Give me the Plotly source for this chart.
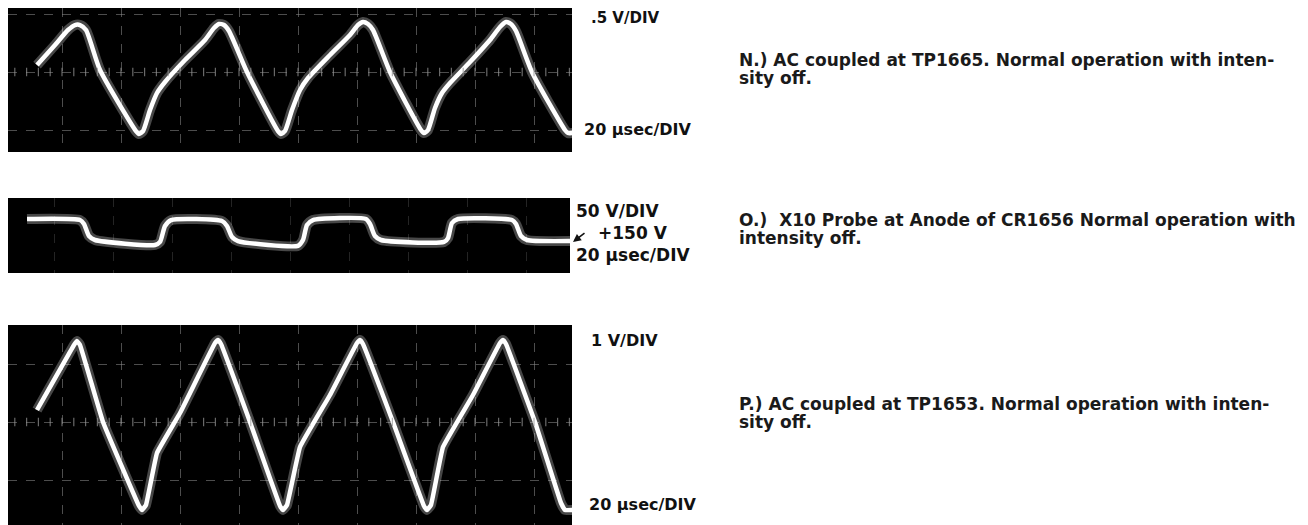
import plotly.graph_objects as go

# page body adds an 8 px margin, so the figure is drawn 8 px in from the corner
OFF = 8
W, H = 1300, 517

# ---- Data (time in microseconds) ----
# N.) TP1665, 0.5 V/div, 20 usec/div
n_time = [-8.47, -2.37, 2.03, 4.41, 6.10, 8.14, 12.88, 25.08, 26.10, 27.46,
          29.83, 32.20, 34.92, 41.69, 48.47, 51.53, 53.22, 54.92, 56.61, 62.71,
          73.22, 74.24, 75.59, 77.97, 80.68, 83.39, 90.85, 97.63, 100.34, 102.03,
          103.73, 105.42, 111.19, 121.69, 122.71, 124.07, 126.44, 128.81, 131.53, 138.31,
          145.08, 148.47, 150.51, 152.20, 153.90, 159.3, 170.51, 171.53, 173.22]
n_volts = [0.06, 0.233, 0.362, 0.405, 0.405, 0.362, 0.017, -0.509, -0.534, -0.509,
           -0.328, -0.181, -0.086, 0.103, 0.276, 0.379, 0.414, 0.405, 0.353, 0.0,
           -0.509, -0.534, -0.509, -0.328, -0.155, -0.052, 0.147, 0.319, 0.405, 0.431,
           0.414, 0.362, 0.0, -0.5, -0.526, -0.5, -0.31, -0.181, -0.095, 0.086,
           0.276, 0.388, 0.431, 0.414, 0.353, 0.0, -0.5, -0.526, -0.526]

# O.) Anode of CR1656, 50 V/div, 20 usec/div
o_time = [-11.86, 6.10, 7.46, 9.15, 11.19, 31.53, 33.22, 34.92, 36.95, 54.24,
          55.93, 57.63, 59.66, 80.0, 81.69, 83.05, 85.08, 103.05, 104.41, 106.10,
          108.14, 129.49, 130.85, 132.20, 134.24, 152.54, 153.90, 155.59, 157.63, 172.2]
o_volts = [168.1, 167.2, 163.8, 153.4, 150.0, 145.7, 148.3, 162.1, 167.2, 166.4,
           162.1, 152.6, 149.1, 145.0, 150.0, 162.9, 167.2, 168.1, 163.8, 153.4,
           150.0, 148.3, 151.7, 164.7, 168.1, 167.2, 163.8, 153.4, 150.0, 149.1]

# P.) TP1653, 1 V/div, 20 usec/div
p_time = [-8.47, 4.07, 5.08, 6.10, 13.90, 26.10, 27.12, 28.47, 32.20, 40.0,
          51.86, 52.88, 53.90, 63.73, 73.90, 74.92, 76.27, 80.68, 90.85, 100.0,
          101.02, 102.03, 112.2, 122.71, 123.73, 125.08, 129.15, 139.32, 148.47, 149.49,
          150.51, 160.34, 169.15, 170.51, 173.22]
p_volts = [0.207, 1.328, 1.397, 1.328, 0.0, -1.448, -1.517, -1.431, -0.534, 0.155,
           1.362, 1.414, 1.345, 0.0, -1.448, -1.517, -1.431, -0.431, 0.466, 1.362,
           1.414, 1.345, 0.0, -1.448, -1.517, -1.431, -0.431, 0.466, 1.362, 1.414,
           1.345, 0.0, -1.397, -1.517, -1.517]

scale_labels = [".5 V/DIV", "20 \u00b5sec/DIV", "50 V/DIV", "+150 V", "20 \u00b5sec/DIV",
                "1 V/DIV", "20 \u00b5sec/DIV"]
captions = [
    ["N.) AC coupled at TP1665. Normal operation with inten-", "sity off."],
    ["O.)  X10 Probe at Anode of CR1656 Normal operation with", "intensity off."],
    ["P.) AC coupled at TP1653. Normal operation with inten-", "sity off."],
]


def px_x(p):
    return min(max((p - OFF) / W, 0.0), 1.0)


def px_y(p):
    return min(max(1 - (p - OFF) / H, 0.0), 1.0)


fig = go.Figure()

panels = [(n_time, n_volts, "x", "y", 0.6), (o_time, o_volts, "x2", "y2", 0.6),
          (p_time, p_volts, "x3", "y3", 0.25)]
for t, v, xa, ya, sm in panels:
    fig.add_trace(go.Scatter(x=t, y=v, xaxis=xa, yaxis=ya, mode="lines",
                             line=dict(color="rgba(255,255,255,0.28)", width=10,
                                       shape="spline", smoothing=sm),
                             hoverinfo="skip", showlegend=False))
    fig.add_trace(go.Scatter(x=t, y=v, xaxis=xa, yaxis=ya, mode="lines",
                             line=dict(color="#ffffff", width=4.5,
                                       shape="spline", smoothing=sm),
                             showlegend=False))

# graticule tick marks on the centre lines
tick_t = [i * 4 for i in range(-4, 44)]
for xa, ya in (("x", "y"), ("x3", "y3")):
    fig.add_trace(go.Scatter(x=tick_t, y=[0] * len(tick_t), xaxis=xa, yaxis=ya, mode="markers",
                             marker=dict(symbol="line-ns", size=6,
                                         line=dict(color="rgba(150,150,150,0.7)", width=1.2)),
                             hoverinfo="skip", showlegend=False))

grid = dict(showgrid=True, gridcolor="rgba(140,140,140,0.55)", gridwidth=1, griddash="dash",
            zeroline=False, showticklabels=False, ticks="", showline=False, fixedrange=True)

LEFT = 8  # panels start at the left edge of the figure
t_lo = (LEFT - 62) * 20 / 59
t_hi = (572 - 62) * 20 / 59

layout = dict(
    width=W, height=H, margin=dict(l=0, r=0, t=0, b=0),
    paper_bgcolor="#ffffff", plot_bgcolor="#000000", showlegend=False,
    xaxis=dict(domain=[px_x(LEFT), px_x(572)], range=[t_lo, t_hi], dtick=20, tick0=0,
               anchor="y", **grid),
    yaxis=dict(domain=[px_y(152), px_y(8)],
               range=[(72 - 152) / 58 * 0.5, (72 - 8) / 58 * 0.5], dtick=0.5, tick0=0,
               anchor="x", **grid),
    xaxis2=dict(domain=[px_x(LEFT), px_x(570)], range=[t_lo, (570 - 62) * 20 / 59], dtick=20,
                tick0=-2.7, anchor="y2",
                **{**grid, "gridcolor": "rgba(120,120,120,0.3)"}),
    yaxis2=dict(domain=[px_y(273), px_y(198)],
                range=[150 + (240 - 273) / 58 * 50, 150 + (240 - 198) / 58 * 50],
                anchor="x2", **{**grid, "showgrid": False}),
    xaxis3=dict(domain=[px_x(LEFT), px_x(572)], range=[t_lo, t_hi], dtick=20, tick0=0,
                anchor="y3", **grid),
    yaxis3=dict(domain=[0, px_y(325)], range=[(422 - 525) / 58, (422 - 325) / 58],
                dtick=1, tick0=0, anchor="x3", **grid),
)
fig.update_layout(**layout)

lab_font = dict(family="DejaVu Sans", size=16, color="#111111", weight="bold")
lab_font_top = dict(family="DejaVu Sans", size=15, color="#111111", weight="bold")
lab_font2 = dict(family="DejaVu Sans", size=17, color="#111111", weight="bold")
label_pos = [(590, 18, lab_font_top), (583, 130, lab_font), (575, 211, lab_font2),
             (597, 233, lab_font2), (575, 255, lab_font2), (590, 340, lab_font),
             (588, 504, lab_font)]
anns = []
for txt, (x, y, f) in zip(scale_labels, label_pos):
    anns.append(dict(text=txt, x=px_x(x), y=px_y(y), xref="paper", yref="paper",
                     xanchor="left", yanchor="middle", showarrow=False, font=f,
                     borderpad=0))

# arrow for +150 V reference
anns.append(dict(text="", x=px_x(573), y=px_y(242), xref="paper", yref="paper",
                 showarrow=True, ax=13, ay=-10, arrowhead=2, arrowsize=1,
                 arrowwidth=1.6, arrowcolor="#111111", standoff=0, startstandoff=0))

cap_font = dict(family="DejaVu Sans", size=17, color="#1a1a1a", weight="bold")
cap_y = [60, 220, 404]
for lines, y0 in zip(captions, cap_y):
    for i, ln in enumerate(lines):
        anns.append(dict(text=ln, x=px_x(737), y=px_y(y0 + 18 * i), xref="paper", yref="paper",
                         xanchor="left", yanchor="middle", showarrow=False, font=cap_font))

fig.update_layout(annotations=anns)
fig.write_html("out.html")
